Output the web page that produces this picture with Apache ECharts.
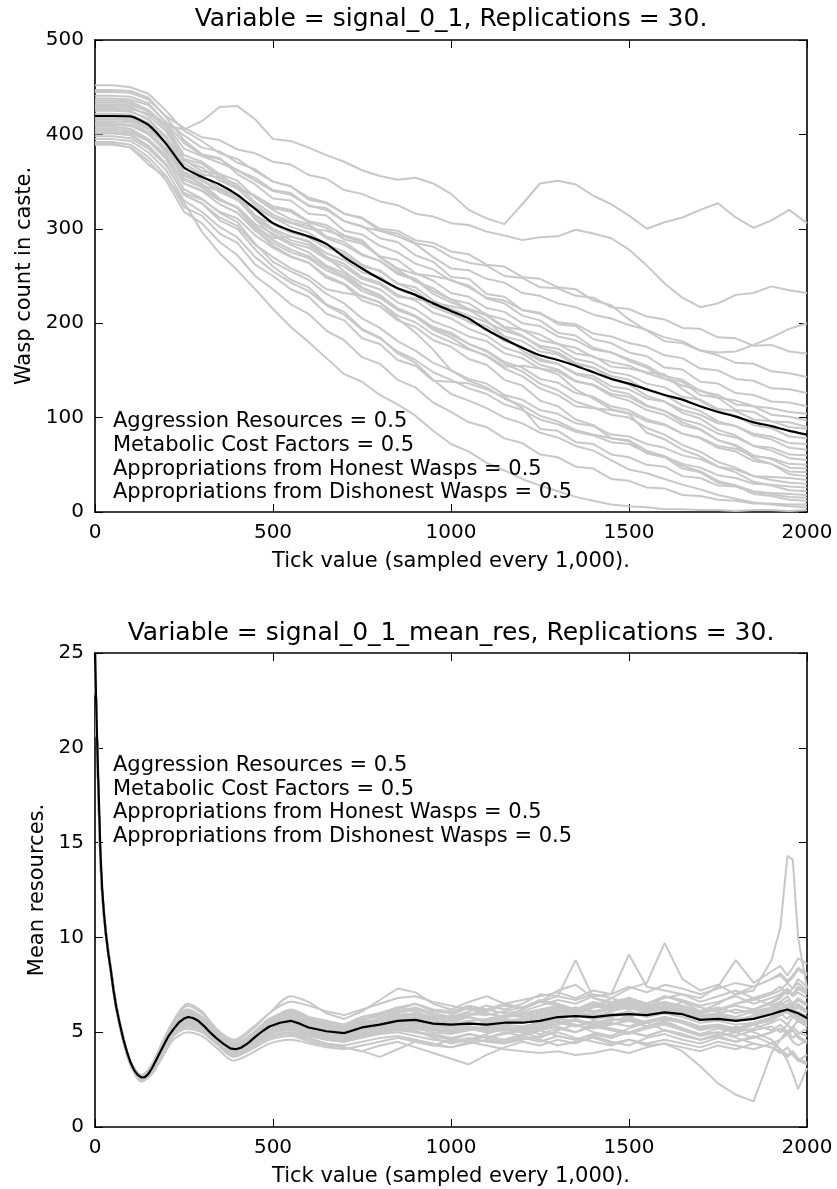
<!DOCTYPE html>
<html>
<head>
<meta charset="utf-8">
<script src="https://cdn.jsdelivr.net/npm/echarts@6/dist/echarts.min.js"></script>
<style>
html,body{margin:0;padding:0;background:#fff;}
#c{width:837px;height:1189px;}
</style>
</head>
<body>
<div id="c"></div>
<script>
// ---------- top panel: wasp count in caste ----------
const TOP_TITLE = 'Variable = signal_0_1, Replications = 30.';
const TOP_YNAME = 'Wasp count in caste.';
const XNAME = 'Tick value (sampled every 1,000).';
const TOP_TICKS = [0,50,100,150,200,250,300,350,400,450,500,550,600,650,700,750,800,850,900,950,1000,1050,1100,1150,1200,1250,1300,1350,1400,1450,1500,1550,1600,1650,1700,1750,1800,1850,1900,1950,2000];
const topMean = [419.5,419.5,419,410,390,365,355,347,336,321,306,298,292,284,270,258,247,237,230,221,213,205,193,183,174,166,161,155,148,141,136,130,124,119,112,106,101,95,91,86,82];
const topRuns = [
[428,428,427,422,410,405,414,429,430,416,395,393,386,378,371,362,356,352,354,348,337,320,311,305,326,348,351,347,335,326,314,300,307,312,320,327,312,301,309,320,306],
[445,445,444,437,419,407,397,394,384,380,371,368,357,353,341,337,329,325,316,313,306,304,297,293,288,291,292,299,295,290,278,261,242,227,217,221,230,232,239,235,232],
[438,438,437,431,413,399,386,382,370,363,350,345,331,327,316,312,300,298,288,285,276,273,262,260,249,247,238,236,224,219,204,192,181,179,171,169,170,177,185,194,200],
[452,452,450,443,425,404,393,380,374,361,350,345,333,328,316,311,298,295,285,281,270,264,261,250,248,238,237,229,227,217,215,207,204,195,194,185,184,176,177,170,168],
[432,432,431,425,410,385,377,370,362,351,340,336,325,320,308,302,298,292,284,270,258,256,247,243,232,229,221,217,209,205,198,193,185,181,171,166,158,157,149,147,143],
[420,420,418,409,392,369,358,354,342,335,324,320,308,304,293,288,270,258,252,250,246,238,227,224,214,210,201,199,189,186,179,175,166,163,152,150,141,139,131,130,126],
[441,441,440,433,412,391,378,374,362,354,341,338,324,322,308,303,290,286,272,265,249,247,231,228,214,211,199,197,183,179,169,165,153,151,138,136,126,124,117,116,112],
[410,410,409,401,381,359,346,340,330,322,312,306,300,298,292,286,270,257,244,237,225,221,209,204,193,188,178,174,164,159,155,147,141,134,129,121,118,112,110,106,104],
[425,425,424,417,396,373,361,358,344,335,322,318,307,301,289,284,271,267,253,245,232,228,216,212,200,197,186,182,172,169,162,155,144,140,128,124,114,112,103,101,97],
[447,447,446,439,418,394,379,375,358,347,332,330,316,314,298,294,282,275,263,257,245,240,226,221,208,203,190,187,174,169,160,153,141,138,124,121,108,106,96,95,90],
[416,416,415,405,389,358,351,340,331,314,305,296,291,280,273,260,256,242,238,224,215,208,201,192,186,176,173,162,158,148,145,136,132,122,119,109,107,98,96,90,88],
[434,434,433,424,406,374,369,355,347,328,315,307,303,290,283,272,266,252,246,231,222,215,209,196,193,182,178,168,165,154,152,148,146,130,118,107,102,92,89,80,78],
[404,404,402,393,376,348,341,330,323,305,295,285,280,268,260,247,241,228,226,222,218,214,203,186,171,160,157,147,144,133,130,120,117,108,103,94,91,83,80,73,72],
[422,422,421,412,396,364,357,343,335,314,300,292,287,274,267,254,249,236,230,217,210,202,197,186,181,170,167,156,153,144,140,129,124,113,107,96,91,81,77,68,66],
[412,412,410,400,383,352,344,331,323,303,290,292,286,270,255,242,236,222,215,202,195,186,181,168,163,152,149,138,135,125,122,112,107,98,93,83,79,70,68,61,60],
[436,436,435,426,409,378,371,358,351,333,320,310,305,292,286,273,266,254,247,234,225,215,208,195,187,174,169,158,153,141,135,123,117,105,99,87,81,70,65,57,55],
[398,398,396,385,367,338,331,318,311,293,280,270,264,250,242,228,222,208,201,188,180,172,166,154,155,152,146,130,120,109,105,96,92,83,79,70,67,59,57,51,50],
[418,418,417,407,391,360,353,339,331,311,298,288,283,270,263,249,243,230,224,211,205,194,187,174,168,156,151,139,134,123,118,108,103,92,87,76,71,60,56,47,46],
[408,408,406,395,378,348,340,326,317,298,285,275,269,256,248,234,227,214,207,194,188,178,171,159,153,141,137,126,122,112,108,98,93,83,78,68,64,54,51,43,42],
[430,430,429,420,403,372,365,351,343,325,312,302,296,283,276,262,255,242,234,220,212,201,194,181,175,162,157,146,141,129,125,113,107,95,88,76,70,57,51,40,38],
[401,401,399,387,368,336,327,312,303,283,270,258,250,236,232,229,222,205,190,172,150,141,136,124,119,108,104,94,91,82,80,72,68,60,56,48,45,38,37,36,34],
[414,414,413,402,385,353,345,331,322,301,288,278,271,259,250,237,229,216,208,196,190,178,170,157,149,136,129,117,111,103,100,89,82,71,64,53,47,38,34,31,30],
[395,395,393,381,362,330,318,302,291,270,255,243,234,219,209,193,184,170,161,148,140,131,125,114,108,98,93,85,81,74,72,63,59,51,47,39,36,30,29,27,26],
[426,426,425,415,398,365,357,342,333,310,293,283,275,261,253,238,230,215,207,193,185,173,165,152,144,131,124,112,110,108,104,84,77,66,59,48,42,32,28,23,22],
[406,406,404,393,374,342,332,317,307,284,265,255,246,231,221,205,195,181,171,158,150,139,132,120,113,102,96,87,82,78,76,65,59,49,43,33,28,22,20,19,18],
[392,392,389,376,356,323,314,295,285,262,250,236,228,210,203,184,178,161,155,139,138,136,130,122,110,88,86,74,72,61,58,50,48,38,36,28,27,21,19,16,15],
[419,419,418,407,389,356,348,332,322,299,282,271,264,248,241,224,218,203,196,182,175,162,156,140,134,118,112,98,92,78,75,62,58,46,42,31,28,19,17,13,12],
[389,389,386,372,351,318,306,286,272,250,236,220,210,192,182,164,157,140,132,116,106,95,90,78,73,61,58,48,46,35,33,26,25,18,17,13,12,9,9,8,8],
[402,402,400,388,369,336,327,309,300,278,260,246,238,220,212,194,185,168,158,140,125,118,110,100,94,84,79,70,65,55,45,41,35,29,24,18,14,10,8,6,5],
[390,390,386,368,355,328,297,274,256,236,215,196,180,163,146,138,124,114,102,86,72,64,52,44,35,28,22,16,12,8,6,5,3,3,2,2,1,2,2,1,2]
];

// ---------- bottom panel: mean resources ----------
const BOT_TITLE = 'Variable = signal_0_1_mean_res, Replications = 30.';
const BOT_YNAME = 'Mean resources.';
const BOT_TICKS = [0,5,10,15,20,30,45,60,80,100,130,160,190,220,260,300,340,390,440,490,550,
600,650,700,750,800,850,900,950,1000,1050,1100,1150,1200,1250,1300,1350,1400,1450,1500,1550,1600,1650,1700,1750,1800,1850,1900,
1925,1945,1960,1975,2000];
const MEAN_TICKS = [0,3,6,9,12,15,20,25,30,37,45,52,60,70,80,90,100,110,120,130,140,150,160,175,190,205,220,235,250,262,275,290,305,320,340,360,380,395,410,430,450,470,490,520,550,575,
600,650,700,750,800,850,900,950,1000,1050,1100,1150,1200,1250,1300,1350,1400,1450,1500,1550,1600,1650,1700,1750,1800,1850,1900,
1925,1945,1960,1975,2000];
const botMean = [25,22.6,20.4,18.4,16.6,14.6,12.6,11.3,10.3,9.2,8.2,7.2,6.3,5.4,4.6,3.95,3.4,3.0,2.75,2.62,2.63,2.8,3.1,3.65,4.2,4.75,5.15,5.5,5.72,5.8,5.75,5.6,5.35,5.05,4.7,4.4,4.15,4.1,4.18,4.42,4.75,5.05,5.3,5.5,5.6,5.45,
5.25,5.05,4.95,5.25,5.4,5.6,5.65,5.45,5.4,5.45,5.4,5.5,5.5,5.6,5.8,5.85,5.8,5.9,5.95,5.9,6.05,5.95,5.65,5.7,5.6,5.7,5.95,
6.1,6.2,6.1,6.0,5.75];
const botRuns = [
[25,21,17.3,14.4,12.5,10.4,8.3,6.4,4.7,3.4,2.6,3.2,4.4,5.5,6.2,5.8,4.9,4.1,4.6,5.6,6.2, 5.8,5.3,5.1,5.6,6.0,6.3,6.1,5.7,5.9,6.3,6.0,5.8,6.2,6.6,6.4,6.0,6.3,6.8,6.5,6.2,6.9,6.6,6.1,6.5,7.0,7.2,8.8, 10.5,14.3,14.1,10.0,7.3],
[25,21,17.1,14.2,12.3,10.2,8.1,6.2,4.5,3.3,2.5,3.0,4.0,4.9,5.4,5.2,4.6,4.0,4.4,5.0,5.2, 4.9,4.7,4.5,4.8,5.0,5.2,5.0,4.8,4.6,4.9,4.7,4.5,4.8,4.6,4.3,4.5,4.7,4.4,4.6,4.3,4.4,4.0,3.2,2.3,1.7,1.35,3.9, 4.6,5.1,4.7,4.9,5.2],
[25,21,17.2,14.3,12.4,10.3,8.2,6.3,4.6,3.35,2.55,3.0,4.1,5.0,5.6,5.3,4.6,4.0,4.5,5.1,5.4, 5.0,4.8,4.6,4.9,5.1,5.3,5.1,4.7,4.4,4.6,4.9,5.2,5.0,4.7,5.1,5.4,5.0,4.8,5.2,5.5,5.1,4.8,4.6,4.9,5.3,5.0,4.6, 4.1,3.5,2.8,2.0,3.1],
[25,21,17.2,14.3,12.4,10.4,8.3,6.4,4.7,3.4,2.7,3.3,4.5,5.5,6.1,5.7,4.9,4.3,4.9,5.7,6.0, 5.6,5.4,5.2,5.6,5.9,6.1,6.3,6.0,5.8,6.1,6.4,6.2,6.5,7.0,6.9,8.8,6.8,6.6,6.8,6.5,6.9,6.7,6.4,6.6,6.9,6.5,6.8, 7.0,7.3,6.9,7.1,6.8],
[25,21,17.2,14.3,12.4,10.3,8.2,6.3,4.6,3.35,2.6,3.2,4.3,5.3,6.0,5.6,4.8,4.2,4.8,5.5,5.8, 5.5,5.3,5.2,5.5,5.7,5.9,6.0,5.8,5.7,5.9,6.2,6.0,6.1,6.4,6.7,6.5,6.9,7.0,9.1,7.4,7.2,7.0,6.6,6.9,7.2,6.8,7.1, 7.4,7.0,7.3,7.6,7.2],
[25,21,17.3,14.4,12.5,10.4,8.3,6.4,4.7,3.4,2.6,3.1,4.2,5.3,6.1,5.8,5.0,4.3,4.8,5.6,6.0, 5.7,5.5,5.4,5.8,6.0,6.2,6.5,6.1,6.0,6.3,6.1,6.4,6.3,6.6,6.9,6.7,7.0,6.8,7.3,7.6,9.7,7.8,7.2,7.5,7.0,7.4,7.8, 8.0,7.6,7.9,8.3,8.0],
[25,21,17.2,14.3,12.4,10.4,8.3,6.4,4.7,3.4,2.7,3.3,4.4,5.5,6.4,6.0,5.1,4.5,5.1,6.0,6.9, 6.6,6.0,5.7,6.1,6.7,7.3,7.1,6.5,6.2,6.6,6.9,6.5,6.3,6.7,6.5,6.2,6.6,6.4,6.8,6.5,6.2,6.6,6.3,6.1,6.5,6.8,6.4, 6.6,6.9,6.5,6.7,6.4],
[25,21,17.1,14.2,12.3,10.2,8.1,6.2,4.5,3.3,2.4,2.8,3.8,4.8,5.2,5.0,4.4,3.7,4.1,4.6,4.8, 4.5,4.3,4.2,4.0,4.3,4.5,4.2,3.9,3.6,3.3,3.8,4.2,4.5,4.3,4.6,4.4,4.8,4.5,4.3,4.7,4.9,4.6,4.4,4.7,4.5,4.8,4.4, 4.6,4.9,4.5,4.3,4.6],
[25,21,17.1,14.2,12.3,10.2,8.1,6.2,4.5,3.25,2.5,2.9,3.9,4.9,5.4,5.1,4.5,3.8,4.3,4.8,5.0, 4.7,4.4,4.2,4.0,3.7,4.1,4.5,4.3,4.6,4.9,4.7,5.0,4.8,5.1,5.3,5.0,5.4,5.2,5.0,5.3,5.6,5.2,4.9,5.2,5.0,5.4,5.1, 5.4,5.0,5.3,5.6,5.3],
[25,21,17.2,14.3,12.4,10.3,8.2,6.3,4.6,3.35,2.6,3.1,4.2,5.2,5.8,5.5,4.7,4.1,4.7,5.4,5.7, 5.3,5.1,5.0,5.3,5.5,5.7,5.8,5.5,5.4,5.6,5.3,5.5,5.7,5.9,6.1,6.0,5.8,6.1,6.3,6.0,6.2,6.0,5.7,5.9,5.6,5.9,6.2, 6.4,6.7,6.3,6.5,6.1],
[25,21,17.2,14.3,12.4,10.3,8.2,6.3,4.6,3.3,2.55,3.0,4.1,5.1,5.7,5.4,4.6,4.0,4.5,5.2,5.4, 5.0,4.8,4.7,5.0,5.2,5.4,5.3,5.1,5.0,5.2,5.0,5.1,5.3,5.2,5.5,5.7,5.4,5.6,5.8,5.5,5.7,5.5,5.2,5.4,5.1,5.4,5.6, 5.9,6.1,5.8,5.6,5.3],
[25,21,17.2,14.3,12.4,10.3,8.2,6.3,4.6,3.4,2.65,3.15,4.3,5.3,5.9,5.5,4.7,4.1,4.7,5.4,5.6, 5.2,5.0,4.9,5.3,5.4,5.6,5.7,5.4,5.3,5.5,5.4,5.6,5.5,5.7,5.9,6.1,5.9,6.0,5.8,6.1,6.3,6.1,5.8,5.9,5.7,5.8,6.1, 6.3,6.0,6.2,5.9,5.6],
[25,21,17.2,14.3,12.4,10.3,8.2,6.3,4.6,3.35,2.6,3.1,4.2,5.2,5.7,5.4,4.6,4.0,4.6,5.3,5.5, 5.1,4.9,4.8,5.1,5.3,5.5,5.6,5.3,5.2,5.3,5.2,5.4,5.3,5.5,5.7,5.6,5.5,5.7,5.6,5.5,5.8,5.6,5.3,5.4,5.2,5.4,5.7, 5.9,6.2,6.0,5.8,5.5],
[25,21,17.3,14.4,12.5,10.4,8.3,6.4,4.7,3.4,2.7,3.2,4.4,5.4,6.0,5.7,4.9,4.2,4.8,5.6,6.0, 5.7,5.4,5.3,5.7,5.8,6.0,6.2,5.9,5.8,6.0,5.9,6.1,6.3,6.6,7.2,7.5,6.8,6.5,6.7,6.4,6.6,6.3,6.0,6.2,6.5,6.7,7.0, 7.2,7.6,7.3,7.8,7.4],
[25,21,17.1,14.2,12.3,10.2,8.1,6.2,4.5,3.3,2.5,2.9,3.9,4.8,5.3,5.1,4.4,3.8,4.3,4.9,5.1, 4.8,4.6,4.5,4.7,4.9,5.0,4.8,4.6,4.5,4.7,4.5,4.4,4.6,4.8,5.0,4.7,4.5,4.3,4.6,4.4,4.6,4.4,4.2,4.5,4.3,4.1,4.4, 4.1,3.8,4.0,3.6,3.4],
[25,21,17.2,14.3,12.4,10.3,8.2,6.3,4.6,3.35,2.6,3.1,4.2,5.2,5.8,5.4,4.7,4.1,4.6,5.3,5.6, 5.3,5.1,4.9,5.2,5.4,5.6,5.7,5.5,5.4,5.6,5.7,5.9,5.8,6.0,6.2,6.0,6.3,6.5,6.2,6.4,6.6,6.4,6.1,6.3,6.0,6.2,6.5, 6.8,7.2,6.9,7.3,7.0],
[25,21,17.2,14.3,12.4,10.3,8.2,6.3,4.6,3.35,2.6,3.15,4.3,5.3,5.9,5.6,4.8,4.2,4.7,5.4,5.7, 5.4,5.2,5.0,5.4,5.5,5.8,5.9,5.6,5.5,5.8,5.6,5.8,6.0,6.2,6.4,6.2,6.5,6.3,6.7,6.5,6.8,7.0,6.8,7.4,8.8,7.6,8.2, 8.5,8.0,8.4,8.9,8.6],
[25,21,17.1,14.2,12.3,10.2,8.1,6.2,4.5,3.3,2.5,3.0,4.0,5.0,5.5,5.2,4.5,3.9,4.4,5.0,5.2, 4.9,4.7,4.5,4.8,5.0,5.2,5.0,4.9,4.7,4.5,4.8,4.6,4.9,5.1,4.8,4.6,4.9,4.7,5.0,4.8,5.1,4.9,4.6,4.8,4.5,4.7,5.0, 5.2,4.9,5.1,4.7,4.4],
[25,21,17.2,14.3,12.4,10.3,8.2,6.3,4.6,3.4,2.65,3.2,4.3,5.3,5.9,5.6,4.8,4.2,4.8,5.5,5.8, 5.4,5.2,5.1,5.4,5.6,5.8,5.9,5.7,5.6,5.8,5.5,5.7,5.6,5.8,6.0,6.3,6.1,6.3,6.5,6.2,6.4,6.2,5.9,6.0,5.8,6.1,6.3, 6.6,6.3,6.5,6.8,6.5],
[25,21,17.2,14.3,12.4,10.3,8.2,6.3,4.6,3.35,2.6,3.1,4.1,5.1,5.7,5.4,4.6,4.0,4.5,5.2,5.5, 5.1,4.9,4.8,5.1,5.3,5.4,5.5,5.2,5.1,5.3,5.1,5.3,5.2,5.4,5.6,5.4,5.2,5.4,5.6,5.3,5.5,5.2,4.9,5.0,4.7,4.4,4.2, 3.9,4.2,3.8,3.5,3.3],
[25,21,17.3,14.4,12.5,10.4,8.3,6.4,4.7,3.45,2.7,3.25,4.4,5.5,6.2,5.8,5.0,4.4,4.9,5.7,6.1, 5.8,5.6,5.4,5.8,6.0,6.3,6.5,6.2,6.1,6.4,6.2,6.5,6.7,6.9,7.1,6.8,7.2,7.0,7.4,7.1,7.5,7.3,7.0,7.3,7.6,7.4,7.8, 8.1,7.7,8.0,8.4,8.1],
[25,21,17.2,14.3,12.4,10.3,8.2,6.3,4.6,3.3,2.55,3.0,4.0,5.0,5.5,5.3,4.6,4.0,4.5,5.1,5.3, 5.0,4.8,4.7,4.9,5.1,5.3,5.2,5.0,4.9,5.1,5.3,5.1,5.0,5.2,5.4,5.6,5.3,5.5,5.3,5.6,5.8,5.5,5.1,5.3,5.0,5.2,5.5, 5.7,5.4,5.8,6.1,5.8],
[25,21,17.1,14.2,12.3,10.2,8.1,6.2,4.5,3.3,2.45,2.85,3.85,4.8,5.2,5.0,4.4,3.7,4.2,4.7,4.9, 4.6,4.4,4.3,4.5,4.7,4.8,4.6,4.4,4.2,4.5,4.3,4.1,4.0,3.9,4.0,3.8,3.9,4.1,3.9,4.2,4.4,4.2,4.0,4.3,4.1,4.4,4.2, 4.0,3.7,3.9,3.5,3.8],
[25,21,17.2,14.3,12.4,10.3,8.2,6.3,4.6,3.35,2.6,3.1,4.2,5.2,5.8,5.5,4.7,4.1,4.7,5.4,5.6, 5.3,5.0,4.9,5.2,5.3,5.5,5.6,5.4,5.3,5.4,5.5,5.4,5.6,5.5,5.7,5.9,5.7,5.8,6.0,5.8,6.0,5.8,5.5,5.6,5.4,5.5,5.8, 6.0,6.3,6.0,5.7,5.4],
[25,21,17.3,14.4,12.5,10.4,8.3,6.4,4.7,3.4,2.65,3.2,4.3,5.4,6.0,5.6,4.9,4.3,4.9,5.6,5.9, 5.6,5.3,5.2,5.5,5.7,5.9,6.0,5.8,5.7,5.9,6.0,5.8,5.9,6.1,6.3,6.1,6.4,6.2,6.6,6.3,6.5,6.3,6.0,6.2,6.4,6.2,6.6, 6.9,7.3,7.0,7.4,7.1],
[25,21,17.2,14.3,12.4,10.3,8.2,6.3,4.6,3.3,2.55,3.05,4.1,5.1,5.6,5.3,4.6,4.0,4.5,5.2,5.4, 5.1,4.9,4.7,5.0,5.2,5.4,5.4,5.2,5.0,5.2,5.0,5.2,5.1,5.3,5.5,5.3,5.6,5.4,5.7,5.5,5.7,5.5,5.2,5.4,5.2,5.5,5.7, 6.0,5.7,6.0,6.3,6.0],
[25,21,17.1,14.2,12.3,10.2,8.1,6.2,4.5,3.3,2.5,2.95,4.0,4.9,5.4,5.2,4.5,3.9,4.4,5.0,5.2, 4.9,4.6,4.5,4.8,5.0,5.1,5.0,4.8,4.7,4.9,4.7,4.9,5.1,4.9,5.2,5.0,5.3,5.1,4.9,5.2,5.4,5.1,4.8,5.0,4.8,5.1,5.3, 5.0,5.4,5.1,4.8,4.5],
[25,21,17.2,14.3,12.4,10.3,8.2,6.3,4.6,3.35,2.6,3.15,4.25,5.25,5.85,5.5,4.75,4.1,4.65,5.35,5.7, 5.3,5.1,5.0,5.3,5.4,5.6,5.7,5.5,5.4,5.5,5.4,5.6,5.7,5.6,5.8,6.0,5.8,5.9,6.1,5.9,6.1,6.0,5.7,5.8,5.6,5.8,6.0, 6.2,6.5,6.2,6.4,6.1],
[25,21,17.3,14.4,12.5,10.4,8.3,6.4,4.7,3.45,2.75,3.3,4.5,5.6,6.5,6.1,5.2,4.6,5.2,6.0,6.6, 6.4,6.1,5.9,6.2,6.5,6.8,6.9,6.6,6.4,6.2,6.0,5.8,6.0,5.8,6.1,6.3,6.0,6.2,6.4,6.1,6.3,6.1,5.8,6.0,6.2,6.0,6.3, 6.5,6.2,6.4,6.7,6.4],
[25,21,17.1,14.2,12.3,10.2,8.1,6.2,4.5,3.25,2.4,2.8,3.7,4.6,5.0,4.8,4.2,3.5,3.9,4.4,4.6, 4.4,4.2,4.1,4.3,4.5,4.7,4.5,4.3,4.2,4.4,4.6,4.4,4.7,4.5,4.8,4.6,4.9,4.7,5.0,4.8,5.1,4.9,4.6,4.8,5.0,4.7,5.0, 5.2,4.9,5.3,5.0,4.8]
];

const NOTE_LINES = ['Aggression Resources = 0.5','Metabolic Cost Factors = 0.5','Appropriations from Honest Wasps = 0.5','Appropriations from Dishonest Wasps = 0.5'];
const X_MAX = 2000, X_STEP = 500;
const TOP_YMAX = 500, TOP_YSTEP = 100;
const BOT_YMAX = 25, BOT_YSTEP = 5;
const SPLIT_AT = 21; // index in BOT_TICKS (tick 600) where smooth early part ends

// ---------- build ----------
const FONT = '"DejaVu Sans", sans-serif';
const GREY = '#c8c8c8';
function pairs(ticks, vals){ return vals.map(function(v,i){ return [ticks[i], v]; }); }
function plain(v){ return String(v); }

function xAxisDef(gi, pos, showLabel, name){
  return {
    type:'value', gridIndex:gi, position:pos, min:0, max:X_MAX, interval:X_STEP,
    axisLine:{show:true, onZero:false, lineStyle:{color:'#000', width:1.6}},
    axisTick:{show:true, inside:true, length:8, lineStyle:{color:'#000', width:1}},
    axisLabel:{show:showLabel, color:'#000', fontSize:20, fontFamily:FONT, margin:11, formatter:plain, showMinLabel:true, showMaxLabel:true},
    splitLine:{show:false},
    name: name || '', nameLocation:'middle', nameGap:39,
    nameTextStyle:{color:'#000', fontSize:21, fontFamily:FONT}
  };
}
function yAxisDef(gi, pos, showLabel, max, step, name, gap){
  return {
    type:'value', gridIndex:gi, position:pos, min:0, max:max, interval:step,
    axisLine:{show:true, onZero:false, lineStyle:{color:'#000', width:1.6}},
    axisTick:{show:true, inside:true, length:8, lineStyle:{color:'#000', width:1}},
    axisLabel:{show:showLabel, color:'#000', fontSize:20, fontFamily:FONT, margin:11, formatter:plain, showMinLabel:true, showMaxLabel:true},
    splitLine:{show:false},
    name: name || '', nameLocation:'middle', nameGap:gap || 50,
    nameTextStyle:{color:'#000', fontSize:21, fontFamily:FONT}
  };
}

const series = [];
topRuns.forEach(function(r){
  series.push({type:'line', xAxisIndex:0, yAxisIndex:0, data:pairs(TOP_TICKS, r), symbol:'none', silent:true,
    lineStyle:{color:GREY, width:2}, z:2});
});
series.push({type:'line', xAxisIndex:0, yAxisIndex:0, data:pairs(TOP_TICKS, topMean), symbol:'none', silent:true,
  smooth:0.2, lineStyle:{color:'#000', width:2.2}, z:3});
botRuns.forEach(function(r){
  const d = pairs(BOT_TICKS, r);
  series.push({type:'line', xAxisIndex:2, yAxisIndex:2, data:d.slice(0, SPLIT_AT + 1), symbol:'none', silent:true,
    smooth:0.3, lineStyle:{color:GREY, width:2}, z:2});
  series.push({type:'line', xAxisIndex:2, yAxisIndex:2, data:d.slice(SPLIT_AT), symbol:'none', silent:true,
    lineStyle:{color:GREY, width:2}, z:2});
});
series.push({type:'line', xAxisIndex:2, yAxisIndex:2, data:pairs(MEAN_TICKS, botMean), symbol:'none', silent:true,
  lineStyle:{color:'#000', width:2.2}, z:3});

function txt(s, x, y, size, align){
  return {type:'text', x:x, y:y, z:100, silent:true,
    style:{text:s, fill:'#000', font: size + 'px ' + FONT, align:align, verticalAlign:'middle',
           textAlign:align, textVerticalAlign:'middle'}};
}
const graphics = [
  txt(TOP_TITLE, 451, 19, 25, 'center'),
  txt(BOT_TITLE, 451, 633, 25, 'center')
];
const topNoteY = [422, 446, 469.5, 493];
const botNoteY = [766, 789.5, 813, 836.5];
NOTE_LINES.forEach(function(s,i){ graphics.push(txt(s, 113, topNoteY[i], 21, 'left')); });
NOTE_LINES.forEach(function(s,i){ graphics.push(txt(s, 113, botNoteY[i], 21, 'left')); });

const chart = echarts.init(document.getElementById('c'), null, {renderer:'canvas', width:837, height:1189});
chart.setOption({
  animation:false,
  backgroundColor:'#fff',
  grid:[
    {left:95, top:40, width:712, height:472, containLabel:false},
    {left:95, top:653, width:712, height:474, containLabel:false}
  ],
  xAxis:[
    xAxisDef(0,'bottom',true,XNAME),
    xAxisDef(0,'top',false,''),
    xAxisDef(1,'bottom',true,XNAME),
    xAxisDef(1,'top',false,'')
  ],
  yAxis:[
    yAxisDef(0,'left',true,TOP_YMAX,TOP_YSTEP,TOP_YNAME,50),
    yAxisDef(0,'right',false,TOP_YMAX,TOP_YSTEP,'',50),
    yAxisDef(1,'left',true,BOT_YMAX,BOT_YSTEP,BOT_YNAME,44),
    yAxisDef(1,'right',false,BOT_YMAX,BOT_YSTEP,'',50)
  ],
  series: series,
  graphic: graphics
});
</script>
</body>
</html>
